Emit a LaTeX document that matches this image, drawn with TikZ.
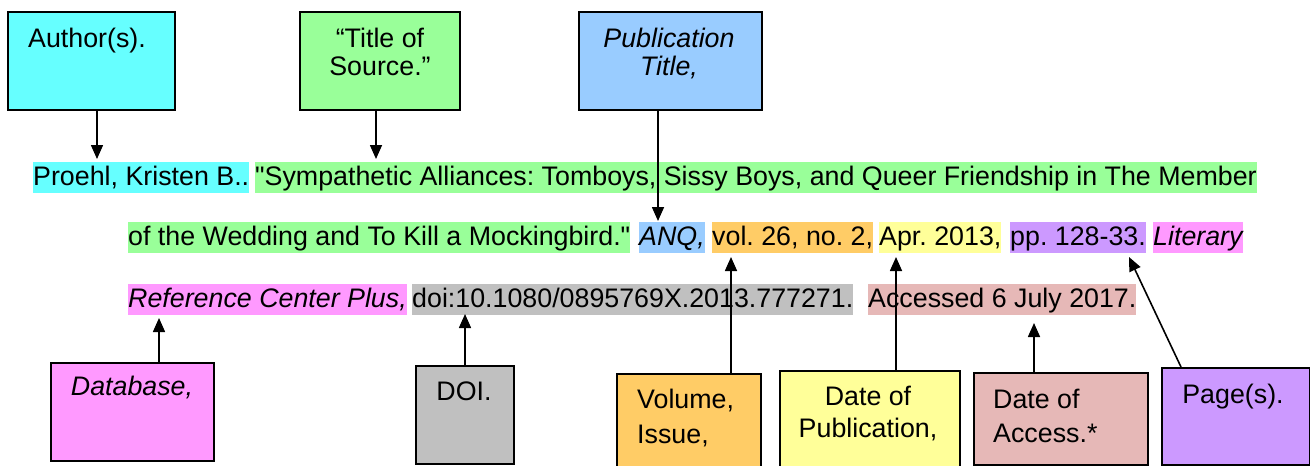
\documentclass[tikz,border=0pt]{standalone}
\usepackage{fontspec}
\newfontfamily\arialf{Liberation Sans}
\usetikzlibrary{arrows.meta}
\definecolor{cyanc}{HTML}{66FFFF}
\definecolor{greenc}{HTML}{99FF99}
\definecolor{bluec}{HTML}{99CCFF}
\definecolor{pinkc}{HTML}{FF99FF}
\definecolor{grayc}{HTML}{C0C0C0}
\definecolor{orangec}{HTML}{FFCC66}
\definecolor{yellowc}{HTML}{FFFF99}
\definecolor{rosec}{HTML}{E6B8B7}
\definecolor{purplec}{HTML}{CC99FF}
\begin{document}
\begin{tikzpicture}[x=1pt,y=-1pt,
  box/.style={draw=black,line width=1.8pt,anchor=north west,inner sep=0pt},
  hl/.style={anchor=base west,inner sep=0pt,text height=23pt,text depth=8pt},
  lbl/.style={inner sep=0pt},
  arr/.style={line width=1.6pt,-{Triangle[width=12pt,length=14pt]}},
  font=\arialf\fontsize{26.8}{28}\selectfont\frenchspacing]
\useasboundingbox (0,0) rectangle (1310,466);
\clip (0,0) rectangle (1310,466);
\fill[white] (0,0) rectangle (1310,466);

% top boxes
\node[box,fill=cyanc,minimum width=167,minimum height=98] (author) at (7,11) {};
\node[lbl,anchor=base west] (authort) at (28,47) {Author(s).};
\node[box,fill=greenc,minimum width=160,minimum height=98] (title) at (299,11) {};
\node[lbl,anchor=base] (titlet1) at (380,47) {“Title of};
\node[lbl,anchor=base] (titlet2) at (380,75) {Source.”};
\node[box,fill=bluec,minimum width=183,minimum height=98] (pub) at (578,11) {};
\node[lbl,anchor=base] (pubt1) at (669,47) {\itshape Publication};
\node[lbl,anchor=base] (pubt2) at (669,75) {\itshape Title,};

% citation lines
\node[hl,fill=cyanc] (l1a) at (33,185) {Proehl, Kristen B..};
\node[hl,fill=greenc] (l1b) at (255,185) {"Sympathetic Alliances: Tomboys, Sissy Boys, and Queer Friendship in The Member};
\node[hl,fill=greenc] (l2a) at (128,245) {of the Wedding and To Kill a Mockingbird."};
\node[hl,fill=bluec] (l2b) at (639,245) {\itshape ANQ,};
\node[hl,fill=orangec] (l2c) at (712,245) {vol. 26, no. 2,};
\node[hl,fill=yellowc] (l2d) at (879,245) {Apr. 2013,};
\node[hl,fill=purplec] (l2e) at (1010,245) {pp. 128-33.};
\node[hl,fill=pinkc] (l2f) at (1153,245) {\itshape Literary};
\node[hl,fill=pinkc] (l3a) at (128,307) {\itshape Reference Center Plus,};
\node[hl,fill=grayc] (l3b) at (412,307) {doi:10.1080/0895769X.2013.777271.};
\node[hl,fill=rosec] (l3c) at (868,307) {Accessed 6 July 2017.};

% bottom boxes
\node[box,fill=pinkc,minimum width=163,minimum height=98] (db) at (50,362) {};
\node[lbl,anchor=base] (dbt) at (132,395) {\itshape Database,};
\node[box,fill=grayc,minimum width=98,minimum height=98] (doi) at (415,365) {};
\node[lbl,anchor=base] (doit) at (464,400) {DOI.};
\node[box,fill=orangec,minimum width=144,minimum height=110] (vol) at (616,373) {};
\node[lbl,anchor=base west] (volt1) at (637,408) {Volume,};
\node[lbl,anchor=base west] (volt2) at (637,443) {Issue,};
\node[box,fill=yellowc,minimum width=180,minimum height=110] (date) at (779,370) {};
\node[lbl,anchor=base] (datet1) at (868,405) {Date of};
\node[lbl,anchor=base] (datet2) at (868,437) {Publication,};
\node[box,fill=rosec,minimum width=174,minimum height=92] (acc) at (973,372) {};
\node[lbl,anchor=base west] (acct1) at (993,408) {Date of};
\node[lbl,anchor=base west] (acct2) at (993,442) {Access.*};
\node[box,fill=purplec,minimum width=148,minimum height=97] (page) at (1161,367) {};
\node[lbl,anchor=base] (paget) at (1233,403) {Page(s).};

% arrow tips
\coordinate (ta) at (97,159);
\coordinate (tt) at (376,159);
\coordinate (tp) at (658,221);
\coordinate (tdb) at (159,318);
\coordinate (tdoi) at (465,314);
\coordinate (tvol) at (731,257);
\coordinate (tdate) at (896,257);
\coordinate (tacc) at (1034,323);
\coordinate (tpage) at (1129,257);

\draw[arr] (author.south -| ta) -- (ta);
\draw[arr] (title.south -| tt) -- (tt);
\draw[arr] (pub.south -| tp) -- (tp);
\draw[arr] (db.north -| tdb) -- (tdb);
\draw[arr] (doi.north -| tdoi) -- (tdoi);
\draw[arr] (vol.north -| tvol) -- (tvol);
\draw[arr] (date.north -| tdate) -- (tdate);
\draw[arr] (acc.north -| tacc) -- (tacc);
\draw[arr] ([xshift=20pt]page.north west) -- (tpage);
\end{tikzpicture}
\end{document}
